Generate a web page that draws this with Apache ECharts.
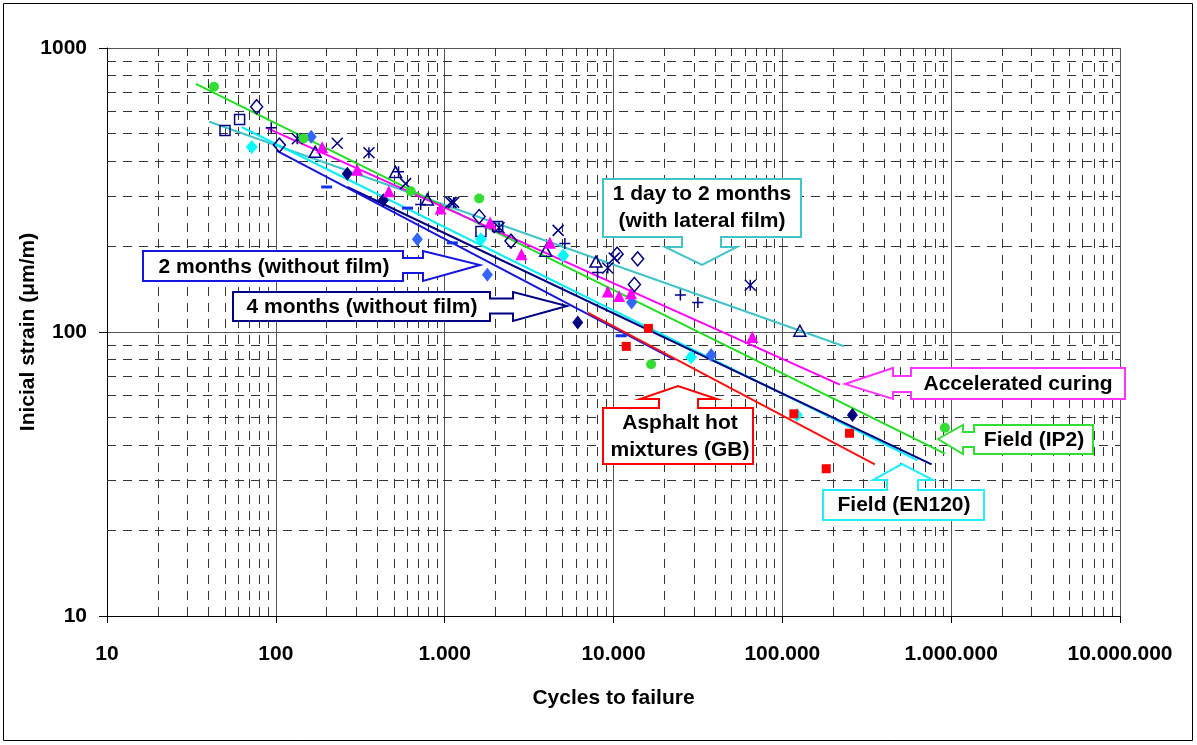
<!DOCTYPE html>
<html><head><meta charset="utf-8">
<script src="https://cdn.jsdelivr.net/npm/echarts@6/dist/echarts.min.js"></script>
<style>html,body{margin:0;padding:0;background:#fff}#c{width:1197px;height:745px}</style>
</head><body><div id="c"></div>
<script>
// ---- tick labels ----
const xTickLabels = ['10','100','1.000','10.000','100.000','1.000.000','10.000.000'];
const yTickLabels = ['10','100','1000'];

// ---- marker series [cycles, strain] ----
const fieldIP2 = [[43,730],[146,480],[630,313],[1600,295],[16700,77],[918000,46]];
const asphaltGB = [[11900,89],[16100,103],[117000,51.5],[182000,33],[250000,44]];
const fieldEN120 = [[72,448],[1640,212],[5040,186],[28800,81.5],[122000,51]];
const months4 = [[265,361],[433,291],[6140,108],[260000,51]];
const months2 = [[162,487],[689,212],[1790,159],[12800,127],[37900,83]];
const months2dash = [[200,324],[603,273],[1110,206],[11100,97]];
const accelerated = [[188,447],[303,373],[467,313],[946,272],[1860,243],[2850,188],[4200,206],[9250,139],[10800,134],[12700,137],[66400,96]];
const lateralDiamond = [[77,621],[105,455],[1600,255],[2470,209],[10500,188],[13900,181],[13300,147]];
const lateralSquare = [[61,560],[50,512],[1640,226],[2060,235]];
const lateralCross = [[231,462],[587,333],[1090,286],[4700,228],[10100,182]];
const lateralStar = [[134,479],[356,428],[1130,286],[2100,233],[9250,168],[64600,146]];
const lateralPlus = [[94,524],[533,367],[721,281],[5150,205],[8050,162],[24900,135],[31600,127]];
const lateralTriangle = [[171,431],[512,366],[789,293],[3970,193],[7870,177],[127000,101]];

// ---- trend lines (end points) ----
const trendIP2 = [[33.6,748],[918000,37.3]];
const trendAccel = [[87.5,524],[219000,65.3]];
const trendLateral = [[40.4,550],[232000,89.1]];
const trendEN120 = [[63,526],[632000,35.3]];
const trend4m = [[265,324],[766000,34.2]];
const trend2m = [[101.6,434],[22960,80]];
const trendGB = [[7030,117],[353000,34.2]];

const FONT = 'Liberation Sans';
const NAVY = '#000080';

// minor grid positions (2..9 per decade)
const minorX = [], minorY = [];
for (let d = 10; d < 1e7; d *= 10) for (let k = 2; k <= 9; k++) minorX.push(k * d);
for (let d = 10; d < 1000; d *= 10) for (let k = 2; k <= 9; k++) minorY.push(k * d);
const gridLinesData = [];
minorX.forEach(v => gridLinesData.push({coords: [[v, 10], [v, 1000]]}));
minorY.forEach(v => gridLinesData.push({coords: [[10, v], [1e7, v]]}));

function trend(data, color, w) {
  return {type: 'line', data: data, symbol: 'none', silent: true, z: 3,
    lineStyle: {color: color, width: w || 2}};
}
function scat(data, symbol, size, fill, stroke, bw) {
  return {type: 'scatter', data: data, symbol: symbol, symbolSize: size, z: 4, silent: true,
    itemStyle: {color: fill, borderColor: stroke || fill, borderWidth: bw || 0, opacity: 1}};
}
const T = 'rgba(255,255,255,0)';
const P_X = 'path://M0,0L10,10M10,0L0,10';
const P_PLUS = 'path://M5,0L5,10M0,5L10,5';
const P_STAR = 'path://M0,0L10,10M10,0L0,10M5,0L5,10';

const chart = echarts.init(document.getElementById('c'), null, {renderer: 'canvas'});

function callout(points, color, text, tx, ty) {
  return [
    {type: 'polygon', z: 100, shape: {points: points}, style: {fill: '#fff', stroke: color, lineWidth: 2}},
    {type: 'text', z: 101, x: tx, y: ty, style: {text: text, fill: '#000',
      font: 'bold 21px "' + FONT + '"', align: 'center', verticalAlign: 'middle', lineHeight: 27}}
  ];
}

const graphics = [].concat(
  [{type: 'rect', z: 100, shape: {x: 3.5, y: 3.5, width: 1189, height: 737},
    style: {fill: 'none', stroke: '#000', lineWidth: 1}}],
  callout([[603,179],[801,179],[801,237],[721,237],[721,247],[737,247],[702,265],[665,247],[682,247],[682,237],[603,237]],
    '#40C4C8', '1 day to 2 months\n(with lateral film)', 702, 208),
  callout([[143,251],[403,251],[403,258],[423,258],[423,251],[480,265],[423,281],[423,273],[403,273],[403,281],[143,281]],
    '#1515E0', '2 months (without film)', 274, 267),
  callout([[233,292],[490,292],[490,298.5],[513,298.5],[513,292],[567,306],[513,321],[513,313.5],[490,313.5],[490,321],[233,321]],
    NAVY, '4 months (without film)', 362, 307),
  callout([[603,408],[659,408],[659,399],[640,399],[678,386],[717,399],[698,399],[698,408],[753,408],[753,464],[603,464]],
    '#FF0000', 'Asphalt hot\nmixtures (GB)', 680, 437),
  callout([[845,384],[893,368],[893,376],[911,376],[911,368],[1125,368],[1125,399],[911,399],[911,392],[893,392],[893,399]],
    '#FF33FF', 'Accelerated curing', 1018, 384),
  callout([[938,439],[963,425],[963,432],[974,432],[974,425],[1093,425],[1093,454],[974,454],[974,447],[963,447],[963,454]],
    '#33DD33', 'Field (IP2)', 1034, 440),
  callout([[823,490],[887,490],[887,480],[873,480],[902,464],[933,480],[918,480],[918,490],[984,490],[984,520],[823,520]],
    '#22EEFF', 'Field (EN120)', 904, 505)
);

chart.setOption({
  animation: false,
  backgroundColor: '#fff',
  grid: {left: 107, right: 77, top: 48, bottom: 129, containLabel: false},
  xAxis: {
    type: 'log', logBase: 10, min: 10, max: 1e7, interval: 1,
    name: 'Cycles to failure', nameLocation: 'middle', nameGap: 72, nameMoveOverlap: false,
    nameTextStyle: {fontFamily: FONT, fontWeight: 'bold', fontSize: 21, color: '#000'},
    axisLine: {show: true, onZero: false, lineStyle: {color: '#000', width: 1}},
    axisTick: {show: true, inside: false, length: 7, lineStyle: {color: '#000'}},
    axisLabel: {margin: 28, fontFamily: FONT, fontWeight: 'bold', fontSize: 21, color: '#000',
      formatter: v => xTickLabels[Math.round(Math.log10(v)) - 1]},
    splitLine: {show: true, lineStyle: {color: '#555', width: 1, type: 'solid'}},
    minorTick: {show: false}, minorSplitLine: {show: false}
  },
  yAxis: {
    type: 'log', logBase: 10, min: 10, max: 1000, interval: 1,
    name: 'Inicial strain (μm/m)', nameLocation: 'middle', nameGap: 68, nameRotate: 90, nameMoveOverlap: false,
    nameTextStyle: {fontFamily: FONT, fontWeight: 'bold', fontSize: 21, color: '#000'},
    axisLine: {show: true, onZero: false, lineStyle: {color: '#000', width: 1}},
    axisTick: {show: true, inside: false, length: 8, lineStyle: {color: '#000'}},
    axisLabel: {margin: 20, fontFamily: FONT, fontWeight: 'bold', fontSize: 21, color: '#000',
      formatter: v => yTickLabels[Math.round(Math.log10(v)) - 1]},
    splitLine: {show: true, lineStyle: {color: '#555', width: 1, type: 'solid'}},
    minorTick: {show: false}, minorSplitLine: {show: false}
  },
  series: [
    {type: 'lines', coordinateSystem: 'cartesian2d', silent: true, z: 1, polyline: false,
      data: gridLinesData, lineStyle: {color: '#333', width: 1, type: [9, 7], opacity: 1}},
    trend(trendLateral, '#40C4C8'),
    trend(trendIP2, '#22DD22'),
    trend(trendAccel, '#FF00FF'),
    trend(trendEN120, '#00F0F8'),
    trend(trend4m, NAVY),
    trend(trend2m, '#1515E0'),
    trend(trendGB, '#FF1010'),
    scat(lateralDiamond, 'diamond', [12, 14], T, NAVY, 1.5),
    scat(lateralSquare, 'rect', 10, T, NAVY, 1.5),
    scat(lateralTriangle, 'triangle', [12, 11], T, NAVY, 1.5),
    scat(lateralCross, P_X, 11, T, NAVY, 1.5),
    scat(lateralStar, P_STAR, 11, T, NAVY, 1.5),
    scat(lateralPlus, P_PLUS, 11, T, NAVY, 1.5),
    scat(months2dash, 'rect', [11, 3], '#1530F0'),
    scat(months2, 'diamond', [11, 14], '#3366FF'),
    scat(months4, 'diamond', [11, 14], NAVY),
    scat(accelerated, 'triangle', [12, 12], '#FF00FF'),
    scat(fieldEN120, 'diamond', [12, 14], '#00FFFF'),
    scat(asphaltGB, 'rect', 9, '#FF0000'),
    scat(fieldIP2, 'circle', 10, '#33DD33')
  ],
  graphic: graphics
});
</script></body></html>
